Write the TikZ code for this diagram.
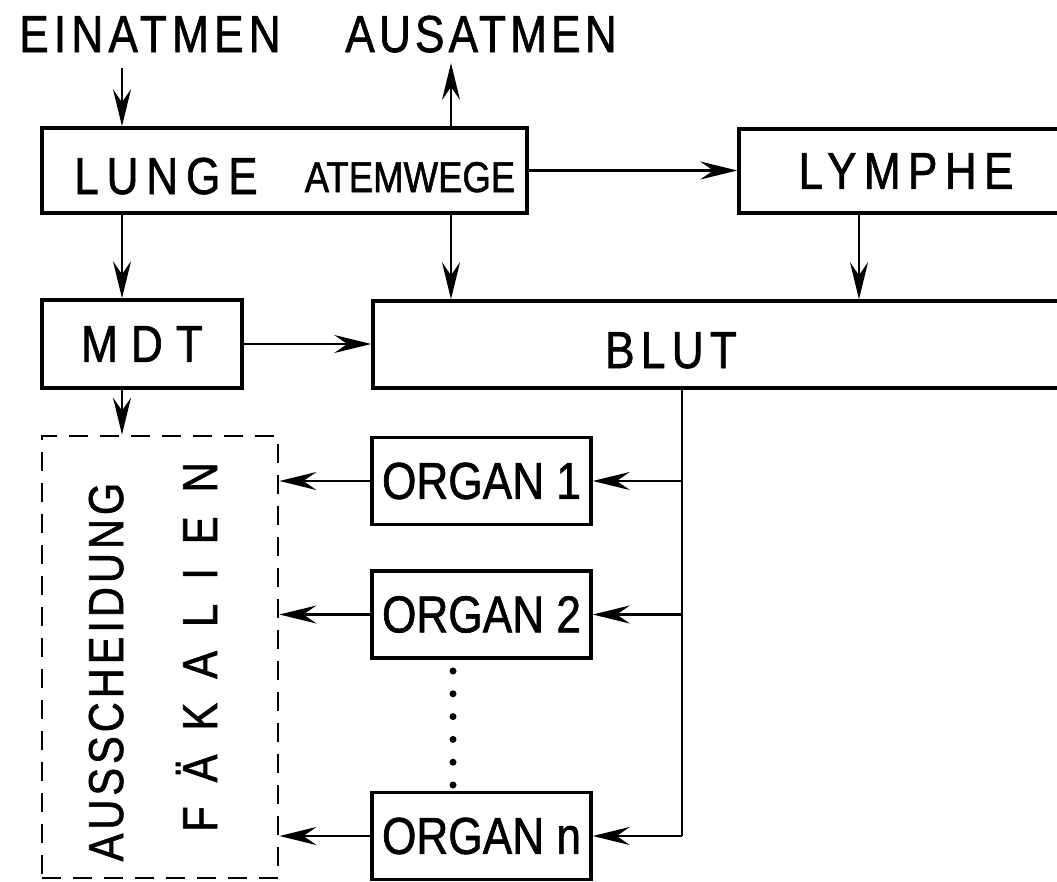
\documentclass[tikz,border=0pt]{standalone}
\usepackage{fontspec}
\setmainfont{Liberation Sans}[FakeStretch=0.85,FakeBold=1.2]
\usetikzlibrary{arrows.meta}
\newcommand\bigtxt{\fontsize{52}{56}\selectfont}
\newcommand\spc[1]{\addfontfeatures{LetterSpace=#1}}
\tikzset{
  box/.style={draw,line width=3.5pt,inner sep=0pt,font=\bigtxt},
  lbl/.style={inner sep=0pt,anchor=base,font=\bigtxt},
  vlbl/.style={inner sep=0pt,anchor=base,rotate=90,font=\fontsize{49}{52}\selectfont},
  flow/.style={line width=2.8pt,-{Stealth[length=37pt,width=18pt,inset=13pt]}},
  sink/.style={draw,line width=2.8pt,dash pattern=on 19pt off 12pt,inner sep=0pt},
  dot/.style={circle,fill,inner sep=0pt,minimum size=7pt}
}

\begin{document}
\begin{tikzpicture}[x=1pt,y=-1pt]
\useasboundingbox (0,0) rectangle (1057,881);
\clip (0,0) rectangle (1057,881);
% compartments
\node[box,minimum width=485,minimum height=85] (lunge) at (284.5,170.5) {};
\node[box,minimum width=334,minimum height=84] (lymphe) at (906,171) {\spc{14}LYMPHE};
\node[box,minimum width=200,minimum height=88] (mdt) at (142,344) {\spc{25}MDT};
\node[box,minimum width=700,minimum height=87] (blut) at (723,344.5) {};
\node[sink,minimum width=236,minimum height=442] (excr) at (160,657) {};
\foreach \i/\y in {1/481,2/614.5,n/836}{\node[box,minimum width=219,minimum height=87] (org\i) at (481.5,\y) {ORGAN \i};}
% labels
\node[lbl] (ein) at (150,52) {\spc{10}EINATMEN};
\node[lbl] (aus) at (481,52) {\spc{8}AUSATMEN};
\node[lbl] (lungetxt) at (166,194) {\spc{15}LUNGE};
\node[lbl,font=\fontsize{43}{46}\selectfont] (atem) at (410,192) {ATEMWEGE};
\node[lbl] (bluttxt) at (671,368) {\spc{12}BLUT};
\node[vlbl] (aussch) at (123,672) {\spc{8}AUSSCHEIDUNG};
\node[vlbl] (faek) at (217,647) {\spc{49}FÄKALIEN};
% flows
\coordinate (inx) at (122,68);
\coordinate (outx) at (451,63);
\coordinate (lyx) at (859,0);
\coordinate (bus) at (682,0);
\draw[flow] (inx) -- (inx |- lunge.north);
\draw[flow] (outx |- lunge.north) -- (outx);
\draw[flow] (lunge.east) -- (lunge.east -| lymphe.west);
\draw[flow] (inx |- lunge.south) -- (inx |- mdt.north);
\draw[flow] (outx |- lunge.south) -- (outx |- blut.north);
\draw[flow] (lyx |- lymphe.south) -- (lyx |- blut.north);
\draw[flow] (mdt.east) -- (mdt.east -| blut.west);
\draw[flow] (inx |- mdt.south) -- (inx |- excr.north);
\draw[line width=2.8pt] (bus |- blut.south) -- (bus |- orgn.east);
\foreach \i in {1,2,n}{
  \draw[flow] (bus |- org\i.east) -- (org\i.east);
  \draw[flow] (org\i.west) -- (org\i.west -| excr.east);
}
\foreach \k in {0,...,5}{\node[dot] (dot\k) at (453,{671+22.8*\k}) {};}
\end{tikzpicture}
\end{document}
